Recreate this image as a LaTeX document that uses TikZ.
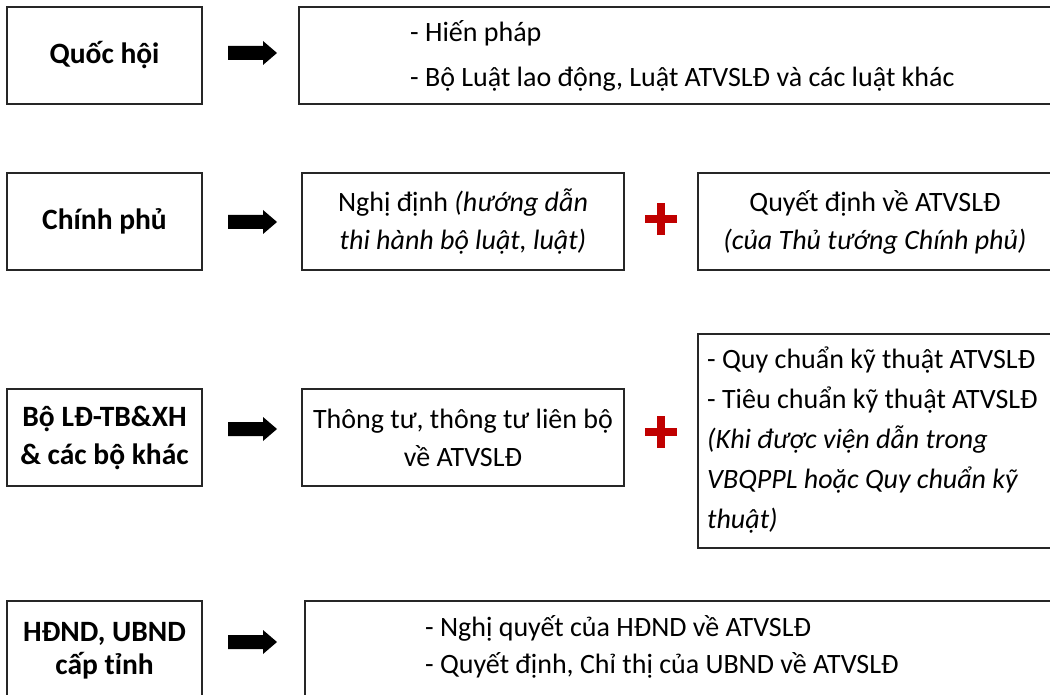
\documentclass[tikz,border=0pt]{standalone}
\usepackage{fontspec}
\setmainfont{Carlito}
\definecolor{plusred}{HTML}{C00000}
\definecolor{edge}{HTML}{262626}
\begin{document}
\begin{tikzpicture}[x=1pt,y=-1pt,
  box/.style={draw=edge, line width=1.8pt, inner sep=0pt},
  head/.style={font=\fontsize{29.5}{38}\selectfont\bfseries, align=center},
  body/.style={font=\fontsize{28}{38}\selectfont, align=center},
  listtext/.style={font=\fontsize{28}{40}\selectfont, align=left, anchor=west, inner sep=0pt},
  blockarrow/.pic={\fill[black] (0,-7) -- (35,-7) -- (35,-12) -- (49,0) -- (35,12) -- (35,7) -- (0,7) -- cycle;},
  plussign/.pic={\fill[plusred] (-16,-4) rectangle (16,4); \fill[plusred] (-4,-16) rectangle (4,16);}
]
\useasboundingbox (0,0) rectangle (1050,695);
\clip (0,0) rectangle (1050,695);

% left column
\node[box, head, minimum width=195, minimum height=97] (qh) at (104.5,55.5) {Quốc hội};
\node[box, head, minimum width=195, minimum height=97] (cp) at (104.5,221.5) {Chính phủ};
\node[box, head, minimum width=195, minimum height=97] (bo) at (104.5,437.5) {Bộ LĐ-TB\&XH\\\& các bộ khác};
\node[box, minimum width=195, minimum height=119] (hd) at (104.5,660.5) {};
\node[head, font=\fontsize{29.5}{33}\selectfont\bfseries] (hdt) at (104.5,651) {HĐND, UBND\\cấp tỉnh};

% row 1
\node[box, minimum width=771, minimum height=97] (r1) at (684.5,55.5) {};
\node[listtext, font=\fontsize{28}{45}\selectfont] (r1t) at (410,55.5) {- Hiến pháp\\- Bộ Luật lao động, Luật ATVSLĐ và các luật khác};

% row 2
\node[box, body, minimum width=322, minimum height=97] (r2a) at (463,221.5) {Nghị định \textit{(hướng dẫn}\\\textit{thi hành bộ luật, luật)}};
\node[box, minimum width=372, minimum height=97] (r2b) at (884,221.5) {};
\node[body] (r2bt) at (875,222) {Quyết định về ATVSLĐ\\\textit{(của Thủ tướng Chính phủ)}};

% row 3
\node[box, body, minimum width=322, minimum height=97] (r3a) at (463,437.5) {Thông tư, thông tư liên bộ\\về ATVSLĐ};
\node[box, minimum width=372, minimum height=214] (r3b) at (884,441) {};
\node[listtext] (r3bt) at (707,440) {- Quy chuẩn kỹ thuật ATVSLĐ\\- Tiêu chuẩn kỹ thuật ATVSLĐ\\\textit{(Khi được viện dẫn trong}\\\textit{VBQPPL hoặc Quy chuẩn kỹ}\\\textit{thuật)}};

% row 4
\node[box, minimum width=765, minimum height=119] (r4) at (687.5,660.5) {};
\node[listtext, font=\fontsize{28}{37}\selectfont] (r4t) at (425,646.5) {- Nghị quyết của HĐND về ATVSLĐ\\- Quyết định, Chỉ thị của UBND về ATVSLĐ};

% arrows and plus signs
\pic at (228,53) {blockarrow};
\pic at (228,222) {blockarrow};
\pic at (228,429) {blockarrow};
\pic at (228,642) {blockarrow};
\pic at (661,219) {plussign};
\pic at (661,432) {plussign};
\end{tikzpicture}
\end{document}
